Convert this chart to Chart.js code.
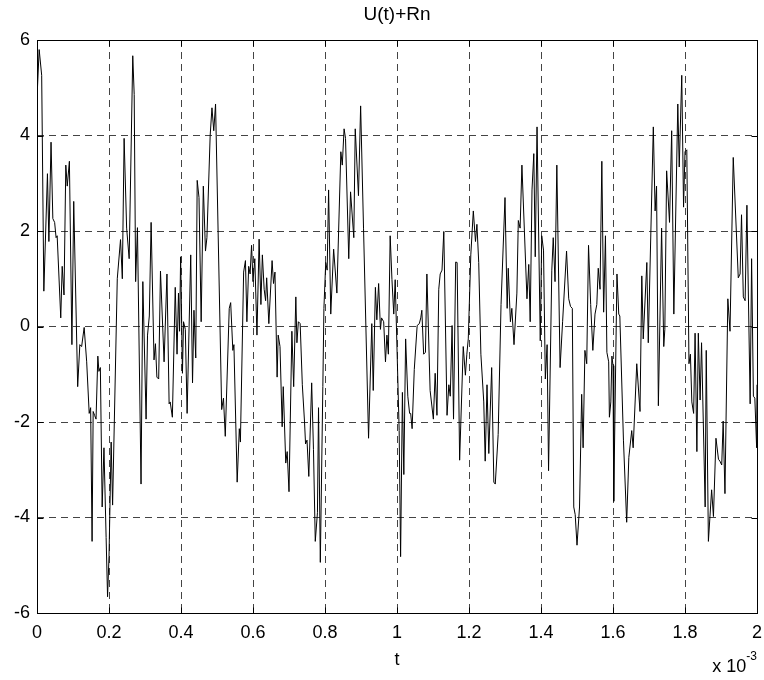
<!DOCTYPE html>
<html>
<head>
<meta charset="utf-8">
<title>U(t)+Rn</title>
<script src="https://cdn.jsdelivr.net/npm/chart.js@4.4.1/dist/chart.umd.min.js"></script>
<style>
  html, body { margin: 0; padding: 0; background: #fff; }
  #wrap { width: 764px; height: 680px; }
</style>
</head>
<body>
<div id="wrap"><canvas id="signalChart" width="764" height="680"></canvas></div>
<script>
// time axis in units of 1e-3 s (the "x 10^-3" factor is shown on the axis)
const tVals = [
  0, 0.006, 0.013, 0.019, 0.029, 0.033, 0.039, 0.044, 0.049, 0.053, 0.056, 0.066, 0.070, 0.075, 0.080, 0.084, 0.090, 0.097, 0.102, 0.113,
  0.119, 0.124, 0.131, 0.138, 0.145, 0.149, 0.153, 0.156, 0.160, 0.164, 0.169, 0.172, 0.176, 0.181, 0.186, 0.192, 0.196, 0.200, 0.206, 0.210,
  0.223, 0.232, 0.237, 0.242, 0.249, 0.256, 0.266, 0.270, 0.274, 0.279, 0.289, 0.294, 0.303, 0.307, 0.312, 0.317, 0.325, 0.329, 0.333, 0.338,
  0.343, 0.353, 0.361, 0.367, 0.370, 0.376, 0.384, 0.389, 0.393, 0.396, 0.399, 0.404, 0.407, 0.412, 0.417, 0.427, 0.432, 0.436, 0.441, 0.445,
  0.450, 0.456, 0.462, 0.468, 0.472, 0.481, 0.486, 0.491, 0.496, 0.513, 0.518, 0.523, 0.534, 0.538, 0.544, 0.547, 0.556, 0.562, 0.565, 0.574,
  0.579, 0.583, 0.588, 0.592, 0.596, 0.600, 0.605, 0.611, 0.617, 0.622, 0.626, 0.631, 0.635, 0.638, 0.644, 0.653, 0.657, 0.661, 0.667, 0.670,
  0.675, 0.681, 0.684, 0.691, 0.695, 0.700, 0.708, 0.713, 0.719, 0.722, 0.726, 0.731, 0.737, 0.743, 0.746, 0.750, 0.755, 0.763, 0.768, 0.773,
  0.779, 0.782, 0.787, 0.794, 0.797, 0.802, 0.806, 0.810, 0.816, 0.824, 0.833, 0.844, 0.848, 0.853, 0.857, 0.866, 0.871, 0.880, 0.884, 0.893,
  0.899, 0.907, 0.921, 0.930, 0.934, 0.940, 0.944, 0.949, 0.954, 0.957, 0.963, 0.968, 0.972, 0.976, 0.981, 0.986, 0.991, 0.995, 1.006, 1.010,
  1.015, 1.019, 1.024, 1.030, 1.035, 1.038, 1.042, 1.048, 1.056, 1.062, 1.066, 1.069, 1.074, 1.079, 1.083, 1.092, 1.101, 1.106, 1.111, 1.116,
  1.120, 1.125, 1.130, 1.139, 1.144, 1.148, 1.153, 1.157, 1.163, 1.167, 1.174, 1.184, 1.190, 1.194, 1.198, 1.205, 1.212, 1.218, 1.222, 1.227,
  1.233, 1.241, 1.245, 1.250, 1.255, 1.263, 1.269, 1.273, 1.281, 1.289, 1.300, 1.306, 1.309, 1.315, 1.319, 1.325, 1.333, 1.337, 1.342, 1.347,
  1.361, 1.366, 1.370, 1.375, 1.380, 1.384, 1.389, 1.398, 1.402, 1.407, 1.412, 1.417, 1.421, 1.430, 1.434, 1.439, 1.444, 1.453, 1.460, 1.471,
  1.477, 1.482, 1.487, 1.491, 1.495, 1.500, 1.507, 1.513, 1.517, 1.522, 1.527, 1.532, 1.538, 1.544, 1.550, 1.555, 1.559, 1.564, 1.569, 1.574,
  1.579, 1.583, 1.588, 1.590, 1.594, 1.597, 1.600, 1.602, 1.611, 1.616, 1.619, 1.629, 1.638, 1.644, 1.652, 1.656, 1.666, 1.675, 1.680, 1.684,
  1.694, 1.698, 1.712, 1.717, 1.721, 1.726, 1.735, 1.741, 1.744, 1.749, 1.757, 1.763, 1.769, 1.780, 1.784, 1.791, 1.796, 1.800, 1.805, 1.811,
  1.815, 1.819, 1.824, 1.828, 1.833, 1.837, 1.842, 1.846, 1.856, 1.859, 1.865, 1.874, 1.879, 1.886, 1.893, 1.897, 1.902, 1.906, 1.911, 1.919,
  1.925, 1.934, 1.948, 1.953, 1.957, 1.962, 1.967, 1.972, 1.981, 1.985, 1.990, 1.994, 1.999, 2.0
];

// U(t)+Rn
const uVals = [
  4.78, 5.8, 5.26, 0.74, 3.2, 1.78, 3.86, 2.26, 2.18, 1.86, 1.9, 0.18, 1.26, 0.66, 3.38, 2.94, 3.46, -0.38, 2.62, -1.26,
  -0.38, -0.42, -0.02, -0.74, -1.82, -1.7, -4.5, -1.78, -1.86, -1.94, -0.62, -0.94, -0.86, -3.78, -2.54, -4.42, -5.66, -4.82, -2.42, -3.74,
  1.0, 1.82, 1.0, 3.94, 2.06, 1.42, 5.67, 4.86, 0.94, 2.07, -3.3, 0.94, -1.94, -0.18, 0.22, 2.18, -0.7, -0.36, -1.06, -1.1,
  1.16, -0.74, 1.1, -1.62, -1.58, -1.9, 0.82, -0.58, 0.7, -0.1, 1.46, -0.98, 0.1, -0.06, -1.82, 1.5, -1.18, 0.34, -0.66, 3.06,
  2.7, 0.1, 2.94, 1.58, 1.86, 4.0, 4.58, 4.1, 4.66, -1.74, -1.5, -2.3, 0.38, 0.5, -0.5, -0.38, -3.26, -2.14, -2.42, 1.14,
  1.38, 0.1, 1.26, 1.1, 1.7, 0.94, 1.42, -0.18, 1.83, 0.46, 1.5, 0.78, 0.54, 1.02, 0.06, 1.38, 0.9, 1.14, -1.06, -0.18,
  -0.42, -2.1, -1.26, -2.86, -2.62, -3.46, -0.1, -1.26, 0.62, -0.34, 0.1, 0.06, -1.22, -1.98, -2.46, -2.38, -3.14, -1.18, -2.58, -4.5,
  -3.9, -1.7, -4.94, -1.26, 0.38, 1.34, 1.18, 2.86, 0.26, 1.62, 0.7, 3.66, 3.38, 4.14, 3.94, 1.42, 2.82, 1.86, 4.14, 2.74,
  4.62, 2.06, -2.34, 0.06, -1.34, 0.82, 0.14, 0.9, -0.06, 0.18, 0.1, -0.74, -0.18, -0.58, 1.9, 0.98, 0.26, 0.98, -2.18, -4.82,
  -1.38, -3.1, -0.26, -1.46, -1.82, -1.82, -2.14, -0.9, 0.02, 0.06, 0.18, 0.34, -0.58, -0.54, 1.1, -1.34, -1.94, -0.98, -1.86, 0.78,
  1.1, 1.18, 1.99, -1.86, -1.22, -1.46, 0.02, -1.94, 1.35, 1.34, -2.8, -0.42, -1.02, -0.58, -0.26, 1.5, 2.42, 1.78, 2.14, 1.34,
  -0.58, -1.58, -2.82, -1.22, -2.66, -0.86, -3.26, -3.3, -2.26, 0.46, 2.7, 0.38, 1.22, 0.1, 0.38, -0.38, 0.7, 2.22, 2.06, 3.38,
  0.58, 1.3, 0.1, 2.86, 3.62, 1.46, 4.18, -0.3, 1.9, 1.6, -1.1, -0.38, -3.02, 1.18, 1.86, 0.94, 3.38, -0.86, 0.1, 1.58,
  0.58, 0.42, 0.38, -3.78, -3.94, -4.58, -3.78, -1.42, -2.54, -0.5, -0.78, 1.7, 0.46, -0.5, 0.26, 0.46, 1.22, 0.78, 3.46, 0.3,
  1.9, -0.54, -0.74, -1.9, -1.58, -0.62, -0.82, -3.66, 1.1, 0.26, 0.22, -2.38, -4.1, -2.74, -2.18, -2.54, -0.78, -1.78, 1.06, -0.26,
  1.34, -0.34, 4.18, 2.42, 2.94, -1.66, 2.06, -0.42, -0.06, 3.26, 2.18, 4.1, 0.26, 4.66, 3.34, 5.26, 2.5, 3.66, 3.7, -0.78,
  -0.58, -1.58, -1.82, -0.14, -2.62, -0.14, -1.54, -0.34, -3.78, -0.5, -4.5, -3.42, -3.98, -2.34, -2.78, -2.82, -2.9, -1.98, -3.5, 0.58,
  -0.1, 3.54, 1.02, 1.1, 2.34, 0.62, 0.54, 2.54, -1.62, 1.42, -1.46, -1.5, -2.54, -1.22
];

const xTicks = [0, 0.2, 0.4, 0.6, 0.8, 1, 1.2, 1.4, 1.6, 1.8, 2];
const yTicks = [-6, -4, -2, 0, 2, 4, 6];

const chartTitle = "U(t)+Rn";
const xLabel = "t";
const xExponent = "-3";

const FONT = "'Liberation Sans', Arial, Helvetica, sans-serif";

// MATLAB-like box, inward ticks and the text around the axes
const matlabAxes = {
  id: "matlabAxes",
  afterDraw(chart) {
    const { ctx, chartArea } = chart;
    const { left, right, top, bottom } = chartArea;
    const xs = chart.scales.x;
    const ys = chart.scales.y;
    const L = Math.round(left) + 0.5;
    const R = Math.round(right) + 0.5;
    const T = Math.round(top) + 0.5;
    const B = Math.round(bottom) + 0.5;
    const tick = 6;

    ctx.save();
    ctx.strokeStyle = "#000";
    ctx.lineWidth = 1;
    ctx.setLineDash([]);
    ctx.strokeRect(L, T, R - L, B - T);

    ctx.beginPath();
    xTicks.forEach((v) => {
      const px = Math.round(xs.getPixelForValue(v)) + 0.5;
      ctx.moveTo(px, B);
      ctx.lineTo(px, B - tick);
      ctx.moveTo(px, T);
      ctx.lineTo(px, T + tick);
    });
    yTicks.forEach((v) => {
      const py = Math.round(ys.getPixelForValue(v)) + 0.5;
      ctx.moveTo(L, py);
      ctx.lineTo(L + tick, py);
      ctx.moveTo(R, py);
      ctx.lineTo(R - tick, py);
    });
    ctx.stroke();

    ctx.fillStyle = "#000";
    ctx.textAlign = "center";
    ctx.textBaseline = "middle";
    ctx.font = `19px ${FONT}`;
    const cx = (left + right) / 2;
    ctx.fillText(chartTitle, cx, 15);
    ctx.font = `18px ${FONT}`;
    ctx.fillText(xLabel, cx, 660);

    // "x 10^-3" scale factor, bottom right
    ctx.textAlign = "right";
    ctx.textBaseline = "alphabetic";
    ctx.font = `12px ${FONT}`;
    const expW = ctx.measureText(xExponent).width;
    ctx.fillText(xExponent, right, 660);
    ctx.font = `18px ${FONT}`;
    ctx.fillText("x 10", right - expW, 672);
    ctx.restore();
  },
};

function buildChart() {
  const ctx = document.getElementById("signalChart").getContext("2d");
  const points = tVals.map((t, i) => ({ x: t, y: uVals[i] }));

  const gridCommon = {
    color: "#444",
    lineWidth: 1,
    drawTicks: false,
  };

  return new Chart(ctx, {
    type: "line",
    data: {
      datasets: [
        {
          label: chartTitle,
          data: points,
          borderColor: "#000",
          borderWidth: 1,
          pointRadius: 0,
          tension: 0,
          fill: false,
        },
      ],
    },
    options: {
      responsive: false,
      animation: false,
      devicePixelRatio: 1,
      layout: { padding: { top: 40, right: 7, left: 0, bottom: 0 } },
      plugins: {
        legend: { display: false },
        title: { display: false },
        tooltip: { enabled: false },
      },
      scales: {
        x: {
          type: "linear",
          min: 0,
          max: 2,
          afterBuildTicks: (s) => {
            s.ticks = xTicks.map((v) => ({ value: v }));
          },
          afterFit: (s) => {
            s.height = 67;
            s.paddingLeft = 0;
            s.paddingRight = 0;
          },
          grid: gridCommon,
          border: { display: false, dash: [7, 5] },
          ticks: {
            color: "#000",
            padding: 9,
            maxRotation: 0,
            autoSkip: false,
            font: { family: FONT, size: 18 },
            callback: (v) => String(v),
          },
        },
        y: {
          type: "linear",
          min: -6,
          max: 6,
          afterBuildTicks: (s) => {
            s.ticks = yTicks.map((v) => ({ value: v }));
          },
          afterFit: (s) => {
            s.width = 37;
          },
          grid: gridCommon,
          border: { display: false, dash: [7, 5] },
          ticks: {
            color: "#000",
            padding: 7,
            autoSkip: false,
            font: { family: FONT, size: 18 },
            callback: (v) => String(v),
          },
        },
      },
    },
    plugins: [matlabAxes],
  });
}

document.addEventListener("DOMContentLoaded", () => buildChart());
</script>
</body>
</html>
